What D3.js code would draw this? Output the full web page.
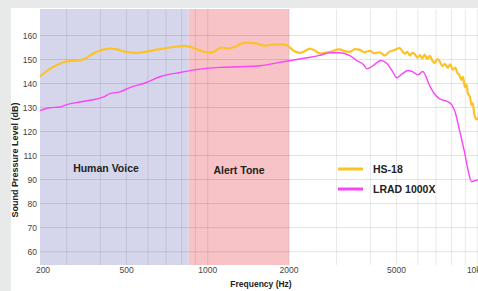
<!DOCTYPE html>
<html>
<head>
<meta charset="utf-8">
<script src="https://cdn.jsdelivr.net/npm/d3@7"></script>
<style>
  body { margin: 0; background: #fff; }
  svg { display: block; font-family: "Liberation Sans", Arial, sans-serif; }
</style>
</head>
<body>
<div id="chart"></div>
<script>
// frequency response readings (Hz, dB)
const hs18 = [
    [239, 143], [260, 146.1], [283, 148.2], [300, 149.2], [336, 149.6], [350, 150.3],
    [375, 152.4], [410, 154.1], [434, 154.5], [460, 154.2], [500, 153.1], [546, 152.8],
    [594, 153.3], [655, 154.2], [755, 155.3], [822, 155.7], [895, 154.6], [975, 153.1],
    [1035, 152.9], [1090, 154.3], [1127, 155], [1186, 154.6], [1259, 155.3], [1371, 157],
    [1493, 156.8], [1626, 155.8], [1771, 156.3], [1928, 156.2], [2013, 155], [2100, 153.3],
    [2190, 152.8], [2286, 153.5], [2386, 154.5], [2490, 153.8], [2600, 152.5], [2830, 153.2],
    [3080, 154.2], [3200, 153.5], [3360, 153.2], [3500, 154.3], [3660, 154], [3800, 153],
    [3980, 153.6], [4150, 152.6], [4335, 153], [4525, 151.7], [4700, 153.2], [4930, 154],
    [5140, 154.8], [5250, 153.5], [5370, 152.4], [5480, 153.2], [5600, 151.7], [5720, 152.8],
    [5840, 152.3], [5970, 150.8], [6100, 151.8], [6230, 150.5], [6360, 152], [6500, 150.2],
    [6640, 151.5], [6790, 149.5], [6930, 148.6], [7080, 150.2], [7230, 149.2], [7400, 147.2],
    [7550, 148.2], [7750, 146.5], [7900, 148], [8080, 145.8], [8250, 146.6], [8400, 144.5],
    [8550, 143.5], [8700, 141.5], [8820, 142.8], [8950, 138.5], [9080, 139.5], [9200, 135.8],
    [9350, 134.5], [9480, 131], [9580, 131.8], [9700, 127.5], [9900, 125], [10100, 126],
    [10300, 123]
];
const lrad = [
    [239, 128.7], [260, 129.9], [283, 130.2], [300, 131.2], [336, 132.3], [366, 133],
    [412, 134.4], [434, 135.8], [472, 136.5], [514, 138.3], [585, 140.2], [664, 142.8],
    [788, 144.6], [934, 146], [1108, 146.7], [1314, 147], [1558, 147.4], [1848, 148.8],
    [2190, 150.2], [2600, 151.7], [2830, 152.8], [3080, 152.8], [3360, 151.6], [3560, 149.6],
    [3800, 147.5], [3880, 146.1], [4100, 147.5], [4380, 149.6], [4620, 148.2], [4850, 144.7],
    [5010, 142.4], [5250, 144], [5510, 145.4], [5750, 144.8], [6000, 143.6], [6250, 145],
    [6640, 139], [6930, 135.5], [7230, 133.6], [7680, 132.6], [8000, 131.2], [8220, 128.5],
    [8580, 120], [8950, 110.9], [9200, 98], [9500, 89], [9750, 89.5], [10200, 90]
];

const bands = [
    {name: "Human Voice", from: 239, to: 850, color: "#d5d6eb"},
    {name: "Alert Tone", from: 850, to: 2000, color: "#f8c3c7"}
];
const series = [
    {name: "HS-18", data: hs18, color: "#fcc226", width: 2.2},
    {name: "LRAD 1000X", data: lrad, color: "#fb44f8", width: 1.4}
];
const yTicks = [60, 70, 80, 90, 110, 120, 130, 140, 150, 160];
const xLabels = [200, 500, 1000, 2000, 5000, 10000];

const W = 478, H = 291;
const plot = {left: 40, right: 490, top: 9, bottom: 265};

const svg = d3.select("#chart").append("svg")
    .attr("width", W)
    .attr("height", H);

// page background: gray strips top and left, white panel
svg.append("rect").attr("width", W).attr("height", H).attr("fill", "#e8e9e9");
svg.append("rect").attr("x", 11).attr("y", 8).attr("width", W).attr("height", H)
    .attr("fill", "#fff");

const x = d3.scaleLog()
    .domain([239, 11100])
    .range([plot.left, plot.right])
    .clamp(true);

// the axis skips 100, so 90 sits one step under 110
const y = d3.scaleLinear()
    .domain([54.5, 90, 110, 171])
    .range([265, 179.5, 155.5, 9.1]);

const g = svg.append("g");

g.selectAll("rect.band")
    .data(bands)
    .enter().append("rect")
    .attr("class", "band")
    .attr("x", d => x(d.from))
    .attr("width", d => x(d.to) - x(d.from))
    .attr("y", plot.top)
    .attr("height", plot.bottom - plot.top)
    .attr("fill", d => d.color);

// grid
g.selectAll("line.hgrid")
    .data(yTicks)
    .enter().append("line")
    .attr("x1", plot.left).attr("x2", W)
    .attr("y1", d => y(d)).attr("y2", d => y(d))
    .attr("stroke", "rgba(0,0,0,0.11)")
    .attr("stroke-width", 1);

g.selectAll("line.vgrid")
    .data(x.ticks().filter(t => t > 250))
    .enter().append("line")
    .attr("x1", d => x(d)).attr("x2", d => x(d))
    .attr("y1", plot.top).attr("y2", plot.bottom)
    .attr("stroke", "rgba(0,0,0,0.09)")
    .attr("stroke-width", 1);

// tick labels
g.selectAll("text.ylab")
    .data(yTicks)
    .enter().append("text")
    .attr("x", 37)
    .attr("y", d => y(d) + 3)
    .attr("text-anchor", "end")
    .attr("font-size", 8.5)
    .attr("fill", "#444")
    .text(d => d);

// first and last labels are nudged like in the original picture
g.selectAll("text.xlab")
    .data(xLabels)
    .enter().append("text")
    .attr("x", d => x(d) + (d === 200 ? 3 : d >= 10000 ? -4 : 0))
    .attr("y", 273)
    .attr("text-anchor", "middle")
    .attr("font-size", 8.5)
    .attr("fill", "#444")
    .text(d => d >= 10000 ? (d / 1000) + "k" : d);

svg.append("text")
    .attr("transform", "translate(18,160) rotate(-90)")
    .attr("text-anchor", "middle")
    .attr("font-size", 9)
    .attr("font-weight", "bold")
    .attr("fill", "#222")
    .text("Sound Pressure Level  (dB)");

svg.append("text")
    .attr("x", 261)
    .attr("y", 287)
    .attr("text-anchor", "middle")
    .attr("font-size", 8.5)
    .attr("font-weight", "bold")
    .attr("fill", "#222")
    .text("Frequency (Hz)");

// band names
svg.append("text")
    .attr("x", 106).attr("y", 172)
    .attr("text-anchor", "middle")
    .attr("font-size", 10.5)
    .attr("font-weight", "bold")
    .attr("fill", "#222")
    .text(bands[0].name);

svg.append("text")
    .attr("x", 239).attr("y", 174)
    .attr("text-anchor", "middle")
    .attr("font-size", 10.5)
    .attr("font-weight", "bold")
    .attr("fill", "#222")
    .text(bands[1].name);

// curves
const line = d3.line()
    .x(d => x(d[0]))
    .y(d => y(d[1]))
    .curve(d3.curveMonotoneX);

g.selectAll("path.curve")
    .data(series)
    .enter().append("path")
    .attr("d", d => line(d.data))
    .attr("fill", "none")
    .attr("stroke", d => d.color)
    .attr("stroke-width", d => d.width)
    .attr("stroke-linejoin", "round");

// legend
const legend = svg.append("g").attr("transform", "translate(338,169)");
const item = legend.selectAll("g")
    .data(series)
    .enter().append("g")
    .attr("transform", (d, i) => "translate(0," + (i * 20) + ")");
item.append("line")
    .attr("x1", 0).attr("x2", 25)
    .attr("stroke", d => d.color)
    .attr("stroke-width", 3);
item.append("text")
    .attr("x", 35)
    .attr("y", 4)
    .attr("font-size", 10.5)
    .attr("font-weight", "bold")
    .attr("fill", "#222")
    .text(d => d.name);
</script>
</body>
</html>
